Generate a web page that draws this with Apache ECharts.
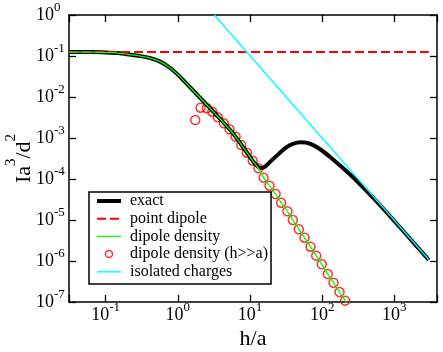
<!DOCTYPE html>
<html>
<head>
<meta charset="utf-8">
<script src="https://cdn.jsdelivr.net/npm/echarts@6/dist/echarts.min.js"></script>
<style>
html,body{margin:0;padding:0;background:#fff;}
#chart{width:443px;height:352px;}
</style>
</head>
<body>
<div id="chart"></div>
<script>
// ---- data ----
const seriesNames = ['exact', 'point dipole', 'dipole density', 'dipole density (h>>a)', 'isolated charges'];

const exactH = [0.031, 0.06, 0.1, 0.15, 0.214, 0.295, 0.406, 0.558, 0.767, 1.055, 1.45, 2.0, 2.75, 3.78, 5.2, 6.3, 7.55, 9.03, 10.9, 12.3, 13.8, 15.5, 18, 21, 25, 31.7, 40, 50, 60, 75, 97, 130, 185, 250, 320, 500, 1000, 2000, 3000];
const exactV = [0.125, 0.1245, 0.1225, 0.118, 0.1085, 0.1, 0.0899, 0.0738, 0.0524, 0.0319, 0.0179, 0.00986, 0.00548, 0.00303, 0.00163, 0.00108, 0.000692, 0.000443, 0.000277, 0.000215, 0.000185, 0.00019, 0.00024, 0.00031, 0.00041, 0.00059, 0.00073, 0.00079, 0.00077, 0.00067, 0.00051, 0.00034, 0.00020, 0.000123, 0.000081, 0.000036, 0.00000943, 0.00000238, 0.00000106];

const dipoleH = [0.031, 3000];
const dipoleV = [0.125, 0.125];

const densityH = [0.031, 0.06, 0.1, 0.15, 0.214, 0.295, 0.406, 0.558, 0.767, 1.055, 1.45, 2.0, 2.75, 3.78, 5.2, 6.3, 7.55, 9.03, 10.9, 13.1, 15.4, 18.6, 22.6, 27.0, 33.0, 39.2, 47.4, 56.9, 68.9, 82.6, 98.7, 119.6, 143.5, 173.7, 208.3, 235];
const densityV = [0.125, 0.1245, 0.1225, 0.118, 0.1085, 0.1, 0.0899, 0.0738, 0.0524, 0.0319, 0.0179, 0.00986, 0.00548, 0.00303, 0.00163, 0.00108, 0.000692, 0.000443, 0.000277, 0.000182, 0.000108, 0.0000687, 0.0000431, 0.0000264, 0.0000163, 0.0000100, 0.00000593, 0.0000037, 0.00000223, 0.00000135, 0.00000083, 0.00000048, 0.000000296, 0.000000175, 0.000000108, 0.000000078];

const asymH = [1.742, 2.063, 2.522, 2.996, 3.58, 4.34, 5.20, 6.30, 7.55, 9.03, 10.9, 13.1, 15.4, 18.6, 22.6, 27.0, 33.0, 39.2, 47.4, 56.9, 68.9, 82.6, 98.7, 119.6, 143.5, 173.7, 208.3];
const asymV = [0.00275, 0.00548, 0.0053, 0.00438, 0.0032, 0.00228, 0.00163, 0.00108, 0.000675, 0.000438, 0.000279, 0.000182, 0.000108, 0.0000687, 0.0000431, 0.0000264, 0.0000163, 0.0000100, 0.00000593, 0.0000037, 0.00000223, 0.00000135, 0.00000083, 0.00000048, 0.000000296, 0.000000175, 0.000000108];

const chargesH = [3.2, 3000];
const chargesV = [1.0, 0.00000108];

const xMin = 0.031, xMax = 3900;
const yMin = 1e-7, yMax = 1;

// ---- helpers ----
const zip = (a, b) => a.map((v, i) => [v, b[i]]);
const FONT = 'Liberation Serif';

function powLabel(v) {
  const e = Math.log10(v);
  const r = Math.round(e);
  if (Math.abs(e - r) > 1e-6) return '';
  return '{b|10}{e|' + r + '}';
}

const xRich = {
  b: {fontSize: 18, lineHeight: 18, verticalAlign: 'bottom', fontFamily: FONT, color: '#000'},
  e: {fontSize: 13, lineHeight: 13, verticalAlign: 'bottom', padding: [0, 0, 10, 0], fontFamily: FONT, color: '#000'}
};
const yRich = {
  b: {fontSize: 18, lineHeight: 18, verticalAlign: 'bottom', padding: [14, 0, 0, 0], fontFamily: FONT, color: '#000'},
  e: {fontSize: 13, lineHeight: 13, verticalAlign: 'bottom', padding: [0, 0, 10, 0], fontFamily: FONT, color: '#000'}
};

const axisLineStyle = {color: '#000', width: 1.5};
const tickStyle = {show: true, inside: true, length: 7, lineStyle: {color: '#000', width: 1.3}};
const hiddenSymbol = {color: 'rgba(0,0,0,0)', borderColor: 'rgba(0,0,0,0)', borderWidth: 0};

const chart = echarts.init(document.getElementById('chart'), null, {renderer: 'canvas'});
chart.setOption({
  animation: false,
  backgroundColor: '#fff',
  textStyle: {fontFamily: FONT, color: '#000'},
  grid: {left: 69, right: 6, top: 15, bottom: 50, containLabel: false, outerBoundsMode: 'none'},
  legend: {
    show: true,
    orient: 'vertical',
    align: 'left',
    left: 89,
    top: 192,
    padding: [0.5, 3, 3.7, 6],
    itemGap: 0.7,
    itemWidth: 24,
    itemHeight: 7,
    selectedMode: false,
    backgroundColor: '#fff',
    borderColor: '#000',
    borderWidth: 1.5,
    borderRadius: 0,
    textStyle: {fontFamily: FONT, fontSize: 16, lineHeight: 17, color: '#000', padding: [0, 0, 0, 4]},
    lineStyle: {width: 'inherit'},
    itemStyle: {borderWidth: 'inherit'},
    data: [
      {name: seriesNames[0], itemStyle: hiddenSymbol},
      {name: seriesNames[1], itemStyle: hiddenSymbol},
      {name: seriesNames[2], itemStyle: hiddenSymbol},
      {name: seriesNames[3]},
      {name: seriesNames[4], itemStyle: hiddenSymbol}
    ]
  },
  xAxis: [{
    type: 'log', logBase: 10, min: xMin, max: xMax, position: 'bottom',
    name: 'h/a', nameLocation: 'middle', nameGap: 26, nameMoveOverlap: false,
    nameTextStyle: {fontFamily: FONT, fontSize: 22, color: '#000'},
    axisLine: {show: true, lineStyle: axisLineStyle},
    axisTick: tickStyle,
    minorTick: {show: false},
    splitLine: {show: false},
    axisLabel: {show: true, margin: 4.5, fontFamily: FONT, fontSize: 18, color: '#000', formatter: powLabel, rich: xRich, showMinLabel: true, showMaxLabel: true, hideOverlap: false}
  }, {
    type: 'log', logBase: 10, min: xMin, max: xMax, position: 'top',
    axisLine: {show: true, lineStyle: axisLineStyle},
    axisTick: tickStyle,
    splitLine: {show: false},
    axisLabel: {show: false}
  }],
  yAxis: [{
    type: 'log', logBase: 10, min: yMin, max: yMax, position: 'left',
    name: '{n|Ia}{s|3}{n|/d}{s|2}', nameLocation: 'middle', nameGap: 34, nameRotate: 90, nameMoveOverlap: false,
    nameTextStyle: {
      fontFamily: FONT, color: '#000', fontSize: 22,
      rich: {
        n: {fontSize: 22, lineHeight: 22, verticalAlign: 'bottom', fontFamily: FONT, color: '#000'},
        s: {fontSize: 15, lineHeight: 15, verticalAlign: 'bottom', padding: [0, 0, 16, 0], fontFamily: FONT, color: '#000'}
      }
    },
    axisLine: {show: true, lineStyle: axisLineStyle},
    axisTick: tickStyle,
    splitLine: {show: false},
    axisLabel: {show: true, align: 'left', margin: 33, fontFamily: FONT, fontSize: 18, color: '#000', formatter: powLabel, rich: yRich, showMinLabel: true, showMaxLabel: true, hideOverlap: false}
  }, {
    type: 'log', logBase: 10, min: yMin, max: yMax, position: 'right',
    axisLine: {show: true, lineStyle: axisLineStyle},
    axisTick: tickStyle,
    splitLine: {show: false},
    axisLabel: {show: false}
  }],
  series: [{
    name: seriesNames[0], type: 'line', data: zip(exactH, exactV),
    symbol: 'none', smooth: 0.25, clip: true,
    lineStyle: {color: '#000', width: 4}, itemStyle: {color: '#000'}
  }, {
    name: seriesNames[1], type: 'line', data: zip(dipoleH, dipoleV),
    symbol: 'none', clip: true,
    lineStyle: {color: '#ff0000', width: 2, type: [9, 4]}, itemStyle: {color: '#ff0000'}
  }, {
    name: seriesNames[2], type: 'line', data: zip(densityH, densityV),
    symbol: 'none', smooth: 0.25, clip: true,
    lineStyle: {color: '#00ff00', width: 1.3}, itemStyle: {color: '#00ff00'}
  }, {
    name: seriesNames[3], type: 'scatter', data: zip(asymH, asymV),
    symbol: 'circle', symbolSize: 9, clip: true,
    itemStyle: {color: 'rgba(0,0,0,0)', borderColor: '#ff0000', borderWidth: 1.5}
  }, {
    name: seriesNames[4], type: 'line', data: zip(chargesH, chargesV),
    symbol: 'none', clip: true,
    lineStyle: {color: '#00ffff', width: 1.5}, itemStyle: {color: '#00ffff'}
  }]
});
</script>
</body>
</html>
